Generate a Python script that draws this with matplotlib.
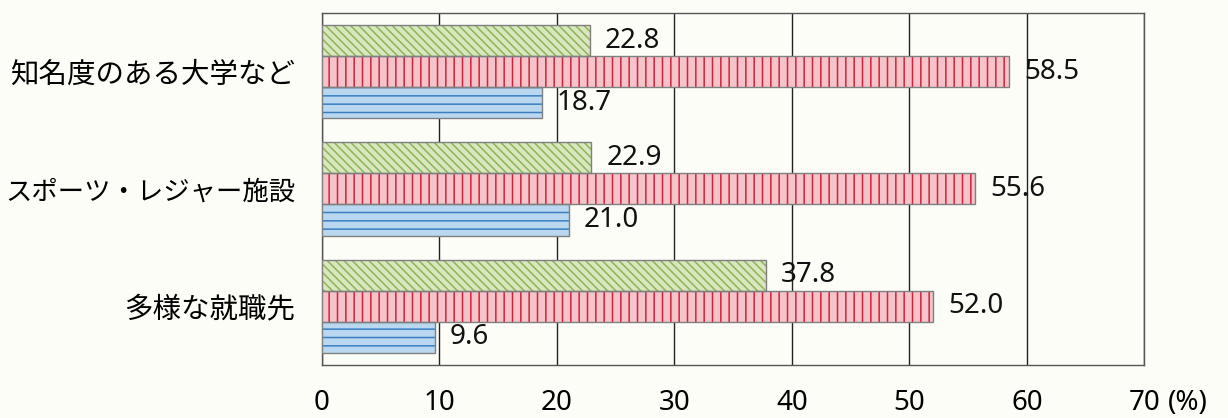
import matplotlib
matplotlib.use("Agg")
import matplotlib.pyplot as plt
import numpy as np

plt.rcParams['font.family'] = ['Noto Sans CJK JP', 'DejaVu Sans']
plt.rcParams['hatch.linewidth'] = 1.1

categories = ["知名度のある大学など", "スポーツ・レジャー施設", "多様な就職先"]
green_vals = [22.8, 22.9, 37.8]
red_vals = [58.5, 55.6, 52.0]
blue_vals = [18.7, 21.0, 9.6]
xticks = [0, 10, 20, 30, 40, 50, 60, 70]

num_font = ['Noto Sans', 'DejaVu Sans']

fig = plt.figure(figsize=(12.28, 4.18), dpi=100)
fig.patch.set_facecolor("#fdfdf8")
ax = fig.add_axes([0.262, 0.127, 0.670, 0.842])
ax.set_facecolor("#fdfdf8")

y = np.arange(len(categories))
h = 0.265

series = [
    (green_vals, -h, "#d9e7bf", "#8fb35a", "\\\\\\\\"),
    (red_vals, 0.0, "#f5c4ca", "#d0223a", "||"),
    (blue_vals, h, "#b9d8f0", "#3a7fc0", "--"),
]

for vals, off, fill, hcol, hatch in series:
    # hatch layer, then grey outline on top
    ax.barh(y + off, vals, height=h, color=fill, edgecolor=hcol,
            hatch=hatch, linewidth=0, zorder=3)
    ax.barh(y + off, vals, height=h, color="none", edgecolor="#7f7f7f",
            linewidth=1.0, zorder=4)
    for yi, v in zip(y + off, vals):
        ax.annotate(f"{v:.1f}", (v, yi), xytext=(11, 0),
                    textcoords="offset points", va="center", ha="left",
                    fontsize=20, family=num_font, color="#111111", zorder=5)

ax.set_xlim(0, 70)
ax.set_ylim(2.5, -0.5)
ax.set_xticks(xticks)
ax.set_xticklabels([str(t) for t in xticks], fontsize=20, family=num_font)
ax.set_yticks(y)
ax.set_yticklabels(categories, fontsize=20.5)
# the long label has a full-width dot, shrink it a little so it fits
ax.get_yticklabels()[1].set_fontsize(19)
ax.tick_params(axis="both", length=0)
ax.tick_params(axis="x", pad=17)
ax.tick_params(axis="y", pad=19)
ax.xaxis.grid(True, color="#222222", linewidth=1.0, zorder=0)
ax.set_axisbelow(True)
for s in ax.spines.values():
    s.set_color("#555555")
    s.set_linewidth(1.0)

ax.annotate("(%)", (1.0, 0.0), xycoords="axes fraction", xytext=(17, -17),
            textcoords="offset points", fontsize=20, family=num_font,
            ha="left", va="top")

fig.savefig("out.png", dpi=100, facecolor=fig.get_facecolor())
